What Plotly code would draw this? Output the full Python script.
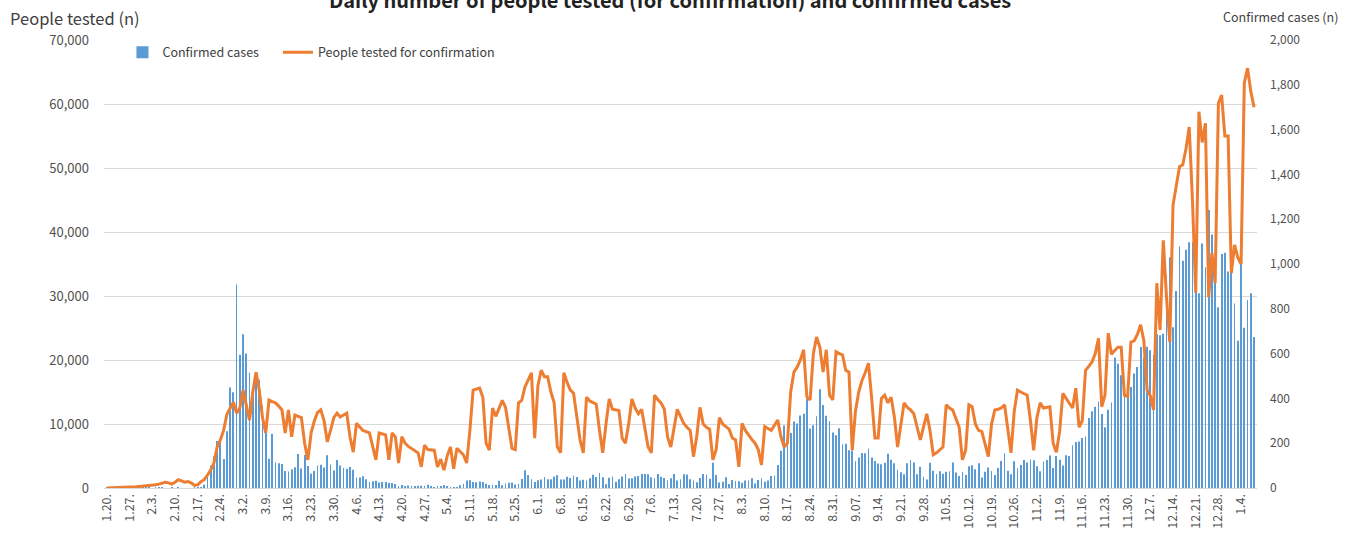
import pandas as pd
import plotly.graph_objects as go

# ---------------- DATA ----------------
tests_jan = [10, 20, 30, 40, 60, 80, 100, 120, 150, 200, 250, 300]
tests_feb = [350, 300, 450, 500, 600, 700, 900, 800, 600, 900, 1300, 1100, 900, 1000, 800, 400, 500,
             1000, 1300, 2000, 2800, 3900, 6400, 7500, 9000, 11500, 12500, 13400, 11700]
tests_mar = [12500, 15300, 13000, 10600, 15000, 18100, 15300, 11000, 8600, 13750, 13500, 13300, 12800,
             12200, 8600, 12200, 8000, 11400, 11200, 11000, 7000, 4400, 8600, 10500, 11800, 12200,
             10500, 7200, 9000, 11000, 11700]
tests_apr = [11100, 11400, 11700, 8000, 5600, 10100, 9500, 9000, 8800, 8600, 6500, 4400, 8600, 8400,
             8300, 4400, 8600, 8000, 3900, 8000, 7000, 6500, 6200, 5800, 5500, 3300, 6700, 6000, 6000, 5900]
tests_may = [3300, 4500, 2800, 5000, 6400, 3000, 6200, 5700, 5200, 3900, 9000, 15300, 15500, 15600,
             14200, 7000, 5900, 12500, 11200, 12500, 13700, 12600, 9000, 6200, 6000, 13300, 13700,
             15800, 16900, 18000, 7800]
tests_jun = [16000, 18400, 17400, 17400, 15000, 13300, 6400, 5500, 18000, 16500, 15300, 14800, 11000,
             7500, 5500, 14200, 13600, 13400, 13100, 9000, 5500, 10000, 13900, 12300, 12200, 12100,
             7800, 7000, 10000, 13900]
tests_jul = [12500, 11600, 12300, 9000, 6400, 5500, 14500, 13800, 13300, 12300, 8000, 6400, 9500, 12300,
             11200, 10100, 9500, 9000, 4900, 8000, 12600, 10000, 9500, 9200, 4400, 6000, 11000, 10000,
             9600, 9200, 7800]
tests_aug = [7500, 3300, 10100, 9000, 8200, 7600, 7000, 6000, 3600, 9600, 9300, 9000, 9800, 10600, 8000,
             6400, 7000, 15000, 18100, 18900, 20000, 21600, 14200, 13750, 21000, 23600, 22000, 18100,
             21600, 14500, 13750]
tests_sep = [21300, 21000, 20800, 18400, 18100, 5900, 12000, 15000, 16800, 18000, 19500, 14000, 7800,
             7800, 14000, 14500, 13300, 14200, 11100, 6400, 10000, 13300, 12600, 12200, 11600, 9500,
             7500, 9500, 11600, 9000]
tests_oct = [5200, 5500, 6000, 6400, 13000, 12500, 12200, 11000, 9500, 4400, 5900, 13000, 12700, 10000,
             9000, 8800, 7000, 4900, 10000, 12200, 12300, 12500, 13000, 9000, 5500, 12000, 15300, 15000,
             14800, 14500, 10500]
tests_nov = [5900, 11000, 13300, 12500, 12600, 12700, 7000, 5600, 8800, 14800, 14000, 13300, 12500,
             15600, 9500, 10500, 18400, 19000, 19700, 21000, 23400, 12700, 14500, 24200, 20900, 21500,
             22000, 22000, 14500, 14300]
tests_dec = [22800, 23000, 24000, 25500, 23000, 15300, 14400, 12200, 32000, 24700, 38700, 29700, 22800,
             44200, 47000, 50200, 50500, 53000, 56400, 45000, 30500, 58800, 54000, 57000, 29800, 36700,
             32000, 60100, 61400, 55000, 55000]
tests_jan21 = [33600, 38000, 36000, 35000, 63300, 65600, 62000, 59500]

cases_jan = [1, 0, 0, 0, 1, 0, 1, 1, 0, 0, 2, 5]
cases_feb = [1, 3, 0, 1, 3, 4, 0, 0, 3, 0, 1, 0, 0, 0, 0, 1, 1, 1, 15, 58, 100, 142, 210, 207, 130,
             253, 449, 427, 909]
cases_mar = [595, 686, 600, 516, 438, 518, 483, 367, 248, 131, 242, 114, 110, 107, 76, 74, 84, 93, 152,
             87, 147, 98, 64, 76, 100, 104, 91, 146, 105, 78, 125]
cases_apr = [101, 89, 86, 94, 81, 47, 47, 53, 39, 27, 30, 32, 25, 27, 27, 22, 22, 18, 8, 13, 9, 11, 8,
             6, 10, 10, 10, 14, 9, 4]
cases_may = [9, 6, 13, 8, 3, 2, 4, 12, 18, 34, 35, 27, 26, 29, 27, 19, 13, 15, 13, 32, 12, 20, 23, 25,
             16, 19, 40, 79, 58, 39, 27]
cases_jun = [35, 38, 49, 39, 39, 51, 57, 38, 38, 50, 45, 56, 49, 34, 37, 34, 43, 59, 49, 67, 48, 17, 46,
             51, 28, 39, 51, 62, 42, 43]
cases_jul = [51, 54, 63, 63, 61, 48, 44, 63, 50, 45, 35, 44, 62, 33, 39, 61, 60, 39, 34, 26, 45, 63, 59,
             41, 113, 58, 25, 28, 48, 18, 36]
cases_aug = [31, 30, 23, 34, 33, 43, 20, 36, 43, 28, 34, 54, 56, 103, 166, 279, 197, 246, 297, 288, 324,
             332, 397, 266, 280, 320, 441, 371, 323, 299, 248]
cases_sep = [235, 267, 195, 198, 168, 167, 119, 136, 156, 155, 176, 136, 121, 109, 106, 113, 153, 126,
             110, 82, 70, 61, 110, 125, 114, 61, 95, 50, 38, 113]
cases_oct = [77, 63, 75, 64, 73, 75, 114, 69, 54, 72, 58, 97, 102, 84, 110, 47, 73, 91, 76, 58, 89, 121,
             155, 77, 61, 119, 88, 103, 125, 114, 127]
cases_nov = [124, 97, 75, 118, 125, 145, 89, 143, 126, 100, 146, 143, 191, 205, 208, 223, 230, 313, 343,
             363, 386, 330, 271, 349, 382, 581, 555, 503, 450, 438]
cases_dec = [451, 511, 540, 629, 583, 631, 615, 594, 686, 682, 689, 950, 1030, 718, 880, 1078, 1014,
             1064, 1097, 1097, 926, 869, 1092, 985, 1241, 1132, 970, 807, 1045, 1050, 967]
cases_jan21 = [1029, 824, 657, 1020, 715, 839, 869, 674]

week_labels = ["1.20.", "1.27.", "2.3.", "2.10.", "2.17.", "2.24.", "3.2.", "3.9.", "3.16.", "3.23.",
               "3.30.", "4.6.", "4.13.", "4.20.", "4.27.", "5.4.", "5.11.", "5.18.", "5.25.", "6.1.",
               "6.8.", "6.15.", "6.22.", "6.29.", "7.6.", "7.13.", "7.20.", "7.27.", "8.3.", "8.10.",
               "8.17.", "8.24.", "8.31.", "9.07.", "9.14.", "9.21.", "9.28.", "10.5.", "10.12.",
               "10.19.", "10.26.", "11.2.", "11.9.", "11.16.", "11.23.", "11.30.", "12.7.", "12.14.",
               "12.21.", "12.28.", "1.4."]

start_date = "2020-01-20"

# ---------------- BUILD ----------------
tests = (tests_jan + tests_feb + tests_mar + tests_apr + tests_may + tests_jun + tests_jul + tests_aug
         + tests_sep + tests_oct + tests_nov + tests_dec + tests_jan21)
cases = (cases_jan + cases_feb + cases_mar + cases_apr + cases_may + cases_jun + cases_jul + cases_aug
         + cases_sep + cases_oct + cases_nov + cases_dec + cases_jan21)

dates = pd.date_range(start_date, periods=len(tests), freq="D")
tick_dates = dates[::7][:len(week_labels)]

FONT = "Noto Sans CJK KR, Noto Sans, sans-serif"
TICK_COLOR = "#505050"
NBSP = "\u00a0"

fig = go.Figure()
fig.add_trace(go.Bar(
    x=dates, y=cases, name="Confirmed cases" + NBSP * 5,
    marker=dict(color="#5b9bd5", line=dict(width=0)),
    yaxis="y",
))
fig.add_trace(go.Scatter(
    x=dates, y=tests, name="People tested for confirmation",
    mode="lines", line=dict(color="#ed7d31", width=3),
    yaxis="y2",
))

x0 = dates[0] - pd.Timedelta(hours=22)
x1 = dates[-1] + pd.Timedelta(hours=22)

fig.update_layout(
    width=1356, height=535,
    margin=dict(l=104, r=99, t=40, b=47),
    paper_bgcolor="white", plot_bgcolor="white",
    font=dict(family=FONT, color=TICK_COLOR, size=12),
    bargap=0.75,
    showlegend=True,
    legend=dict(
        orientation="h", x=0.016, y=0.972, xanchor="left", yanchor="middle",
        bgcolor="rgba(0,0,0,0)", font=dict(size=12.5, color="#404040"),
        traceorder="normal",
    ),
    xaxis=dict(
        type="date", range=[x0, x1],
        tickmode="array", tickvals=tick_dates, ticktext=week_labels,
        tickangle=-90, tickfont=dict(size=12.5, color=TICK_COLOR),
        showgrid=False, zeroline=False,
        showline=True, linecolor="#d9d9d9", linewidth=1,
        ticks="", automargin=False,
    ),
    yaxis=dict(
        side="right", range=[0, 2000], dtick=200, tickformat=",",
        showgrid=False, zeroline=False, showline=False, ticks="",
        tickfont=dict(size=12, color=TICK_COLOR), ticklabelstandoff=12,
        automargin=False,
    ),
    yaxis2=dict(
        side="left", overlaying="y", range=[0, 70000], dtick=10000, tickformat=",",
        showgrid=True, gridcolor="#d9d9d9", gridwidth=1,
        zeroline=False, showline=False, ticks="",
        tickfont=dict(size=13, color=TICK_COLOR), ticklabelstandoff=14,
        automargin=False,
    ),
    annotations=[
        dict(text="<b>Daily number of people tested (for confirmation) and confirmed cases</b>",
             xref="paper", yref="paper", x=0.491, y=1.0893, xanchor="center", yanchor="middle",
             showarrow=False, font=dict(size=20, color="#222222", family=FONT)),
        dict(text="People tested (n)", xref="paper", yref="paper", x=-0.083, y=1.049,
             xanchor="left", yanchor="middle", showarrow=False,
             font=dict(size=16.5, color="#404040", family=FONT)),
        dict(text="Confirmed cases (n)", xref="paper", yref="paper", x=1.072, y=1.052,
             xanchor="right", yanchor="middle", showarrow=False,
             font=dict(size=12.5, color="#404040", family=FONT)),
    ],
)

fig.write_html("out.html", config={"displayModeBar": False},
               post_script="document.body.style.margin='0px';")
